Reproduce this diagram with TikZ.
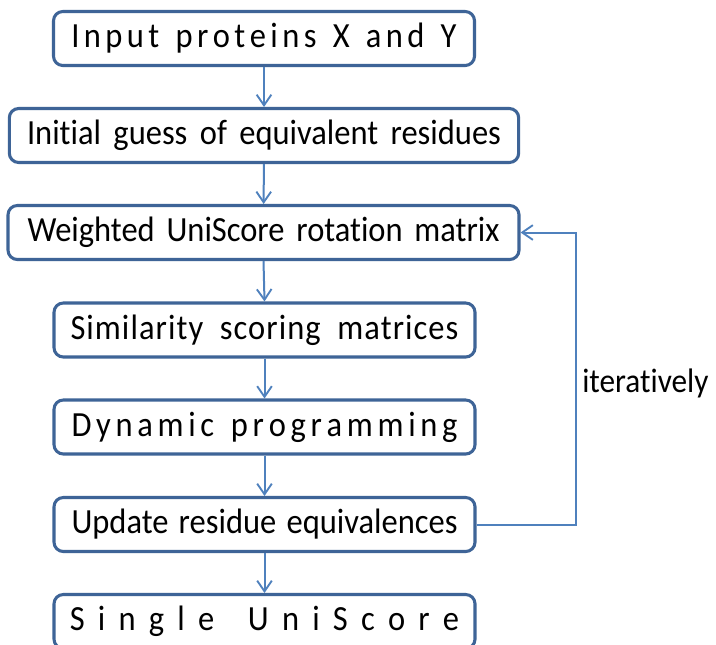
\documentclass[tikz,border=0pt]{standalone}
\usepackage{fontspec}
\setmainfont[Ligatures=NoCommon, FakeStretch=0.92]{Carlito}
\usetikzlibrary{arrows.meta}

\definecolor{boxline}{HTML}{3E6497}
\definecolor{flowline}{HTML}{4F81BD}

% justified line of a given width; \gap spreads single letters
\newcommand\fitline[2]{\makebox[#1][s]{#2}}
\newcommand\gap{\hfill}

\tikzset{
  stage/.style={draw=boxline, line width=2.3pt, rounded corners=7pt, fill=white,
    minimum height=40.5pt, inner sep=0pt, font=\fontsize{26.5}{31}\selectfont},
  narrow/.style={stage, minimum width=315.75pt},
  wide/.style={stage, minimum width=382pt},
  flow/.style={draw=flowline, line width=1.5pt,
    -{Straight Barb[length=8pt,width=11pt,line width=1.4pt]}},
  note/.style={font=\fontsize{25.5}{30}\selectfont, inner sep=0pt, anchor=west},
}

\begin{document}
\begin{tikzpicture}[x=0.75pt, y=-0.75pt]
  \fill[white] (0,0) rectangle (716,644);
  \useasboundingbox (0,0) rectangle (716,644);

  \node[narrow] (b1) at (264,38.5)
    {\fitline{289pt}{I\gap n\gap p\gap u\gap t\gap\ \gap p\gap r\gap o\gap t\gap e\gap i\gap n\gap s\gap\ \gap X\gap\ \gap a\gap n\gap d\gap\ \gap Y}};
  \node[wide] (b2) at (264,135.5)
    {\fitline{355.5pt}{Initial guess of equivalent residues}};
  \node[wide, minimum width=383.25pt] (b3) at (263.5,232.5)
    {\fitline{354pt}{Weighted UniScore rotation matrix}};
  \node[narrow] (b4) at (264.5,330)
    {\fitline{291pt}{\addfontfeature{LetterSpace=3}Similarity scoring matrices}};
  \node[narrow] (b5) at (264.5,427)
    {\fitline{289.5pt}{D\gap y\gap n\gap a\gap m\gap i\gap c\gap\ \gap p\gap r\gap o\gap g\gap r\gap a\gap m\gap m\gap i\gap n\gap g}};
  \node[narrow] (b6) at (264.5,524.5)
    {\fitline{289.5pt}{Update residue equivalences}};
  \node[narrow] (b7) at (264.5,621.5)
    {\fitline{292pt}{S\gap i\gap n\gap g\gap l\gap e\gap\ \gap U\gap n\gap i\gap S\gap c\gap o\gap r\gap e}};

  \draw[flow] (b1) -- (b2);
  \draw[flow] (b2) -- (b3);
  \draw[flow] (b3.south) -- (b4.north);
  \draw[flow] (b4) -- (b5);
  \draw[flow] (b5) -- (b6);
  \draw[flow] (b6) -- (b7);

  % feedback loop
  \coordinate (loop) at (576,0);
  \draw[flow] (b6.east) -- (b6.east -| loop) -- (b3.east -| loop) -- (b3.east);
  \node[note] (iter) at (582,383) {iteratively};
\end{tikzpicture}
\end{document}
